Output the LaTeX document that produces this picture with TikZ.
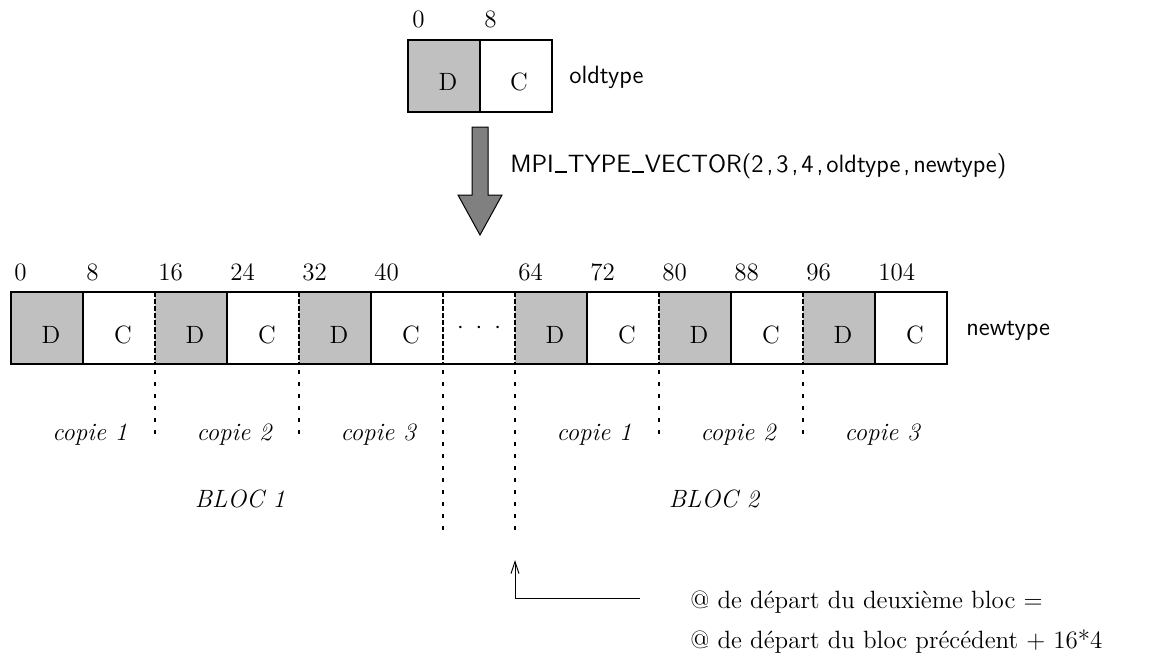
\documentclass[tikz,border=0pt]{standalone}
\usepackage{fontspec}
\usetikzlibrary{arrows.meta}
\newcommand\ubar{\kern0.5pt\rule[-0.6pt]{6pt}{1pt}\kern0.5pt}
\newcommand\cma{\kern1.5pt,\kern1.5pt}
\begin{document}
\begin{tikzpicture}[x=0.5pt,y=-0.5pt,
  cell/.style={minimum width=36pt,minimum height=36pt,inner sep=0pt,outer sep=0pt},
  dcell/.style={cell,fill={rgb,255:red,192;green,192;blue,192}},
  ccell/.style={cell,fill=white},
  lab/.style={inner sep=0pt,font=\fontsize{12.5}{15}\selectfont},
  num/.style={lab,anchor=base west},
  sflab/.style={lab,anchor=base west,font=\fontsize{12.5}{15}\selectfont\sffamily},
  cop/.style={lab,anchor=base,font=\fontsize{12.5}{15}\selectfont\itshape},
  line/.style={line width=0.6pt},
  indash/.style={line width=0.6pt,dash pattern=on 2.5pt off 1pt},
  outdot/.style={line width=0.8pt,dash pattern=on 2pt off 4pt},
  bigarrow/.style={line width=0.5pt,fill={rgb,255:red,128;green,128;blue,128}},
  ptr/.style={line width=0.5pt,-{Straight Barb[length=6pt,width=4pt]}}
]
\useasboundingbox (0,0) rectangle (1152,661);

% ---------- oldtype ----------
\node[dcell] (oD) at (444,76) {};
\node[ccell] (oC) at (516,76) {};
\draw[line] (oD.north west) rectangle (oC.south east);
\draw[line] (oD.north east) -- (oD.south east);
\node[lab,anchor=base] (oDl) at (448,90) {D};
\node[lab,anchor=base] (oCl) at (519,90) {C};
\node[num] (o0) at (412,27) {0};
\node[num] (o8) at (484,27) {8};
\node[sflab] (oldt) at (569,83) {oldtype};

% ---------- big arrow ----------
\draw[bigarrow] (472,127) -- (488,127) -- (488,195) -- (502,195) -- (480,235) -- (458,195) -- (472,195) -- cycle;
\node[sflab] (mpi) at (510,172) {MPI\ubar TYPE\ubar VECTOR(2\cma 3\cma 4\cma oldtype\cma newtype)};

% ---------- newtype ----------
\node[dcell] (n1) at (47,328) {};
\node[ccell] (n2) at (119,328) {};
\node[dcell] (n3) at (191,328) {};
\node[ccell] (n4) at (263,328) {};
\node[dcell] (n5) at (335,328) {};
\node[ccell] (n6) at (407,328) {};
\node[ccell] (n7) at (479,328) {};
\node[dcell] (n8) at (551,328) {};
\node[ccell] (n9) at (623,328) {};
\node[dcell] (n10) at (695,328) {};
\node[ccell] (n11) at (767,328) {};
\node[dcell] (n12) at (839,328) {};
\node[ccell] (n13) at (911,328) {};
\draw[line] (n1.north west) rectangle (n13.south east);
\foreach \n in {1,3,5,8,10,12} \draw[line] (n\n.north east) -- (n\n.south east);
\foreach \n in {2,4,6,7,9,11} \draw[indash] (n\n.north east) -- (n\n.south east);

\foreach \n/\t in {1/D,2/C,3/D,4/C,5/D,6/C,8/D,9/C,10/D,11/C,12/D,13/C}
  \node[lab,anchor=base] (l\n) at ([shift={(4,15)}]n\n.center) {\t};
\node[lab,anchor=base] (dots) at (479,333) {$\cdot\;\cdot\;\cdot$};

\node[num] (m0) at (14,280) {0};
\node[num] (m8) at (86,280) {8};
\node[num] (m16) at (158,280) {16};
\node[num] (m24) at (230,280) {24};
\node[num] (m32) at (302,280) {32};
\node[num] (m40) at (374,280) {40};
\node[num] (m64) at (518,280) {64};
\node[num] (m72) at (590,280) {72};
\node[num] (m80) at (662,280) {80};
\node[num] (m88) at (734,280) {88};
\node[num] (m96) at (806,280) {96};
\node[num] (m104) at (878,280) {104};
\node[sflab] (newt) at (966,335) {newtype};

% dotted separators below
\coordinate (e2) at (155,434);
\coordinate (e4) at (299,434);
\coordinate (e6) at (443,537);
\coordinate (e7) at (515,537);
\coordinate (e9) at (659,434);
\coordinate (e11) at (803,434);
\foreach \n in {2,4,6,7,9,11} \draw[outdot] ([yshift=-3pt]n\n.south east) -- (e\n);

% labels
\node[cop] (c11) at (90,440) {copie 1};
\node[cop] (c12) at (234,440) {copie 2};
\node[cop] (c13) at (378,440) {copie 3};
\node[cop] (c21) at (594,440) {copie 1};
\node[cop] (c22) at (738,440) {copie 2};
\node[cop] (c23) at (882,440) {copie 3};
\node[cop] (b1) at (240,507) {BLOC 1};
\node[cop] (b2) at (714,507) {BLOC 2};

% pointer
\coordinate (pstart) at (640,598);
\coordinate (pcorner) at (515,598);
\coordinate (ptip) at (515,560);
\draw[ptr] (pstart) -- (pcorner) -- (ptip);
\node[num] (t1) at (690,608) {@ de départ du deuxième bloc =};
\node[num] (t2) at (690,648) {@ de départ du bloc précédent + 16*4};
\end{tikzpicture}
\end{document}
